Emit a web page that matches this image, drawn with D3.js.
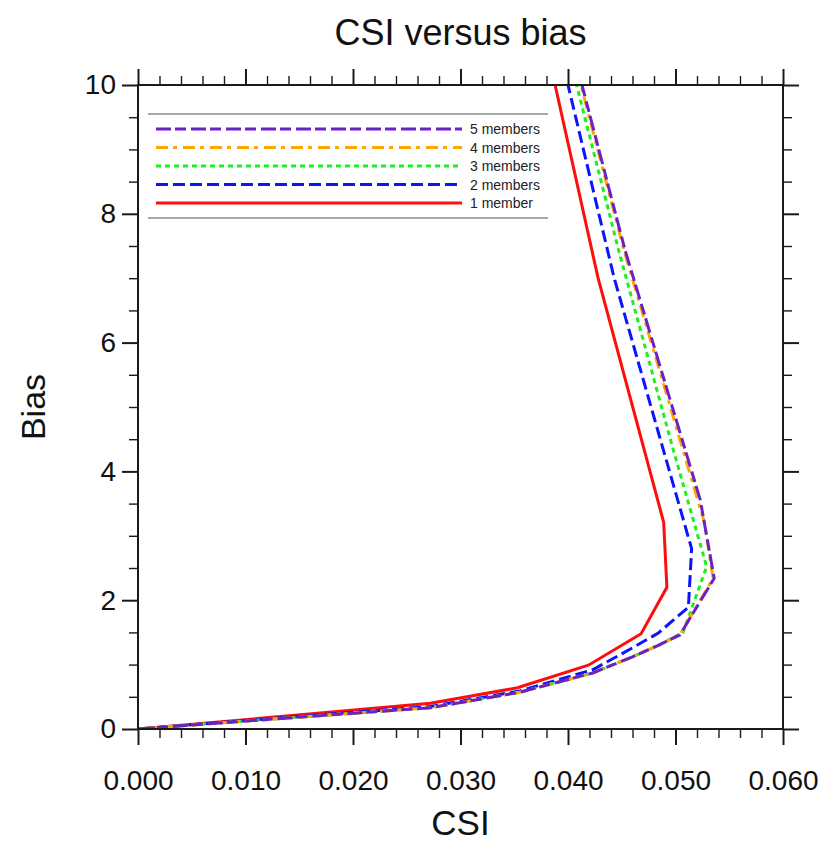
<!DOCTYPE html>
<html>
<head>
<meta charset="utf-8">
<script src="https://cdn.jsdelivr.net/npm/d3@7"></script>
<style>
  html, body { margin: 0; padding: 0; background: #fff; }
  svg { display: block; font-family: "Liberation Sans", Arial, Helvetica, sans-serif; }
</style>
</head>
<body>
<svg id="chart" width="822" height="844"></svg>
<script>
// CSI / bias pairs for each ensemble size (one point per threshold)
const csi1 = [0, 0.0130, 0.0272, 0.0353, 0.0419, 0.0468, 0.0492, 0.0489, 0.0428, 0.0388];
const bias1 = [0, 0.19, 0.40, 0.64, 0.99, 1.48, 2.20, 3.21, 7.00, 10.0];

const csi2 = [0, 0.0130, 0.0272, 0.0355, 0.0423, 0.0460, 0.0484, 0.0512, 0.0515, 0.0443, 0.0400];
const bias2 = [0, 0.17, 0.35, 0.59, 0.92, 1.26, 1.49, 1.89, 2.80, 7.00, 10.0];

const csi3 = [0, 0.0130, 0.0272, 0.0355, 0.0423, 0.0460, 0.0484, 0.0507, 0.0529, 0.0498, 0.0447, 0.0408];
const bias3 = [0, 0.16, 0.33, 0.57, 0.87, 1.12, 1.30, 1.50, 2.52, 4.33, 7.44, 10.0];

const csi4 = [0, 0.0130, 0.0272, 0.0355, 0.0423, 0.0460, 0.0484, 0.0504, 0.0535, 0.0527, 0.0452, 0.0412];
const bias4 = [0, 0.16, 0.33, 0.57, 0.87, 1.12, 1.30, 1.46, 2.34, 3.20, 7.44, 10.0];

const csi5 = [0, 0.0130, 0.0272, 0.0355, 0.0423, 0.0460, 0.0484, 0.0504, 0.0536, 0.0523, 0.0453, 0.0413];
const bias5 = [0, 0.16, 0.33, 0.57, 0.87, 1.12, 1.30, 1.46, 2.34, 3.56, 7.44, 10.0];

const seriesNames = ["5 members", "4 members", "3 members", "2 members", "1 member"];
const xTickLabels = ["0.000", "0.010", "0.020", "0.030", "0.040", "0.050", "0.060"];
const yTickLabels = ["0", "2", "4", "6", "8", "10"];

const series = [
  { name: seriesNames[0], x: csi5, y: bias5, color: "#6a22c4", dash: "15,4,11,5" },
  { name: seriesNames[1], x: csi4, y: bias4, color: "#ffa500", dash: "12,5,4,6" },
  { name: seriesNames[2], x: csi3, y: bias3, color: "#1ef01e", dash: "5,4" },
  { name: seriesNames[3], x: csi2, y: bias2, color: "#0a14ff", dash: "12,5" },
  { name: seriesNames[4], x: csi1, y: bias1, color: "#ff0d0d", dash: null }
];

const svg = d3.select("#chart");
const plotL = 138, plotR = 783, plotT = 85, plotB = 729;

const x = d3.scaleLinear().domain([0, 0.06]).range([plotL, plotR]);
const y = d3.scaleLinear().domain([0, 10]).range([plotB, plotT]);

svg.append("defs").append("clipPath").attr("id", "plotClip")
  .append("rect").attr("x", plotL).attr("y", plotT)
  .attr("width", plotR - plotL).attr("height", plotB - plotT);

// Title and axis labels
svg.append("text").attr("x", (plotL + plotR) / 2).attr("y", 45)
  .attr("text-anchor", "middle").attr("font-size", 36).attr("fill", "#111")
  .text("CSI versus bias");
svg.append("text").attr("x", (plotL + plotR) / 2).attr("y", 835)
  .attr("text-anchor", "middle").attr("font-size", 35).attr("fill", "#111")
  .text("CSI");
svg.append("text").attr("transform", "translate(45," + ((plotT + plotB) / 2) + ") rotate(-90)")
  .attr("text-anchor", "middle").attr("font-size", 34).attr("fill", "#111")
  .text("Bias");

// Curves
const line = d3.line().x(d => x(d[0])).y(d => y(d[1]));
const plot = svg.append("g").attr("clip-path", "url(#plotClip)");
series.slice().reverse().forEach(s => {
  const pts = s.x.map((v, i) => [v, s.y[i]]);
  plot.append("path").datum(pts)
    .attr("d", line)
    .attr("fill", "none")
    .attr("stroke", s.color)
    .attr("stroke-width", 3)
    .attr("stroke-linejoin", "miter")
    .attr("stroke-dasharray", s.dash);
});

// Axes on all four sides, ticks pointing outward
const majorLen = 16, minorLen = 9;
const xMajor = d3.range(0, 7).map(i => i * 0.01);
const xMinor = d3.range(0, 31).map(i => i * 0.002).filter((v, i) => i % 5 !== 0);
const yMajor = d3.range(0, 6).map(i => i * 2);
const yMinor = d3.range(0, 21).map(i => i * 0.5).filter((v, i) => i % 4 !== 0);

const axisColor = "#1a1a1a";
function styleAxis(g, len) {
  g.select(".domain").remove();
  g.selectAll(".tick line").attr("stroke", axisColor).attr("stroke-width", len === majorLen ? 2 : 1.4);
}

function addAxis(gen, transform, vals, len, labels) {
  const a = gen.tickValues(vals).tickSizeInner(len).tickSizeOuter(0).tickPadding(8);
  if (labels) a.tickFormat((d, i) => labels[i]); else a.tickFormat("");
  const g = svg.append("g").attr("transform", transform).call(a);
  styleAxis(g, len);
  g.selectAll("text").attr("font-size", 28).attr("fill", "#111")
    .attr("font-family", "'Liberation Sans', Arial, Helvetica, sans-serif");
  return g;
}

addAxis(d3.axisBottom(x), "translate(0," + plotB + ")", xMinor, minorLen);
const xl = addAxis(d3.axisBottom(x), "translate(0," + plotB + ")", xMajor, majorLen, xTickLabels);
xl.selectAll("text").attr("y", 41);
addAxis(d3.axisTop(x), "translate(0," + plotT + ")", xMinor, minorLen);
addAxis(d3.axisTop(x), "translate(0," + plotT + ")", xMajor, majorLen);
addAxis(d3.axisLeft(y), "translate(" + plotL + ",0)", yMinor, minorLen);
const yl = addAxis(d3.axisLeft(y), "translate(" + plotL + ",0)", yMajor, majorLen, yTickLabels);
yl.selectAll("text").attr("x", -22);
addAxis(d3.axisRight(y), "translate(" + plotR + ",0)", yMinor, minorLen);
addAxis(d3.axisRight(y), "translate(" + plotR + ",0)", yMajor, majorLen);

// Plot frame
svg.append("rect").attr("x", plotL).attr("y", plotT)
  .attr("width", plotR - plotL).attr("height", plotB - plotT)
  .attr("fill", "none").attr("stroke", axisColor).attr("stroke-width", 2);

// Legend
const lg = svg.append("g");
const legTop = 114, legBottom = 218, legLeft = 148, legRight = 548;
lg.append("line").attr("x1", legLeft).attr("x2", legRight).attr("y1", legTop).attr("y2", legTop)
  .attr("stroke", "#8a8a8a").attr("stroke-width", 1.5);
lg.append("line").attr("x1", legLeft).attr("x2", legRight).attr("y1", legBottom).attr("y2", legBottom)
  .attr("stroke", "#8a8a8a").attr("stroke-width", 1.5);
const legY = d3.scalePoint().domain(seriesNames).range([129, 203]);
series.forEach(s => {
  const yy = legY(s.name);
  lg.append("line").attr("x1", 156).attr("x2", 462).attr("y1", yy).attr("y2", yy)
    .attr("stroke", s.color).attr("stroke-width", 3).attr("stroke-dasharray", s.dash);
  lg.append("text").attr("x", 470).attr("y", yy + 5)
    .attr("font-size", 14).attr("fill", "#222").text(s.name);
});
</script>
</body>
</html>
